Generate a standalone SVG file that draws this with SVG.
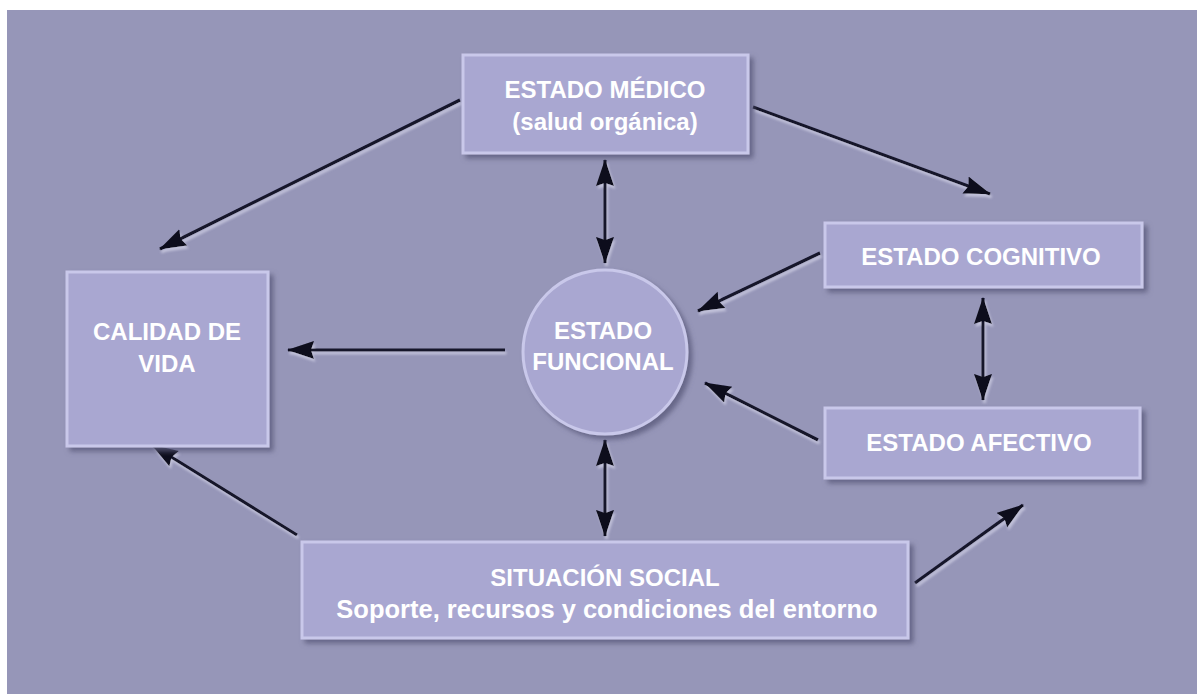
<svg xmlns="http://www.w3.org/2000/svg" width="1197" height="694" viewBox="0 0 1197 694">
<defs>
<style>
.box{fill:#a9a7d1;stroke:#c9c8ea;stroke-width:3}
.lbl{font-family:"Liberation Sans",Arial,sans-serif;font-weight:bold;font-size:24px;fill:#ffffff;text-anchor:middle}
.con{stroke:#14142a;stroke-width:3.2;fill:none}
</style>
<filter id="sh" x="-10%" y="-10%" width="130%" height="140%">
<feDropShadow dx="4" dy="4" stdDeviation="2.5" flood-color="#5a5a7c" flood-opacity="0.8"/>
</filter>
<filter id="lsh" x="-10%" y="-10%" width="120%" height="120%">
<feDropShadow dx="1.5" dy="3" stdDeviation="0.8" flood-color="#c4c4dc" flood-opacity="0.9"/>
</filter>
<marker id="ah" markerUnits="userSpaceOnUse" markerWidth="30" markerHeight="20" refX="26" refY="9" orient="auto-start-reverse">
<path d="M0,0 L27,9 L0,18 L3,9 z" fill="#0c0c1c"/>
</marker>
</defs>
<rect x="0" y="0" width="1197" height="694" fill="#ffffff"/>
<rect x="7" y="10" width="1190" height="684" fill="#9696b8"/>

<g id="connectors" filter="url(#lsh)">
<line class="con" x1="460" y1="100" x2="160" y2="249" marker-end="url(#ah)"/>
<line class="con" x1="753" y1="107" x2="990" y2="194" marker-end="url(#ah)"/>
<line class="con" x1="605" y1="160" x2="605" y2="263" marker-start="url(#ah)" marker-end="url(#ah)"/>
<line class="con" x1="820" y1="253" x2="698" y2="311" marker-end="url(#ah)"/>
<line class="con" x1="505" y1="350" x2="288" y2="350" marker-end="url(#ah)"/>
<line class="con" x1="818" y1="440" x2="705" y2="383" marker-end="url(#ah)"/>
<line class="con" x1="983" y1="298" x2="983" y2="400" marker-start="url(#ah)" marker-end="url(#ah)"/>
<line class="con" x1="605" y1="440" x2="605" y2="536" marker-start="url(#ah)" marker-end="url(#ah)"/>
<line class="con" x1="297" y1="535" x2="152" y2="445" marker-end="url(#ah)"/>
<line class="con" x1="915" y1="583" x2="1023" y2="505" marker-end="url(#ah)"/>
</g>

<g id="medico">
<rect class="box" filter="url(#sh)" x="463" y="55" width="285" height="98"/>
<text class="lbl" x="605" y="98">ESTADO MÉDICO</text>
<text class="lbl" x="605" y="130">(salud orgánica)</text>
</g>
<g id="calidad">
<rect class="box" filter="url(#sh)" x="67" y="272" width="201" height="174"/>
<text class="lbl" x="167" y="340">CALIDAD DE</text>
<text class="lbl" x="167" y="372">VIDA</text>
</g>
<g id="funcional">
<circle class="box" filter="url(#sh)" cx="605" cy="352" r="82"/>
<text class="lbl" x="603" y="339">ESTADO</text>
<text class="lbl" x="603" y="370">FUNCIONAL</text>
</g>
<g id="cognitivo">
<rect class="box" filter="url(#sh)" x="825" y="223" width="317" height="64"/>
<text class="lbl" x="981" y="265">ESTADO COGNITIVO</text>
</g>
<g id="afectivo">
<rect class="box" filter="url(#sh)" x="825" y="408" width="315" height="70"/>
<text class="lbl" x="979" y="451">ESTADO AFECTIVO</text>
</g>
<g id="social">
<rect class="box" filter="url(#sh)" x="302" y="542" width="606" height="96"/>
<text class="lbl" x="605" y="586">SITUACIÓN SOCIAL</text>
<text class="lbl" x="607" y="618" style="font-size:25.5px">Soporte, recursos y condiciones del entorno</text>
</g>
</svg>
